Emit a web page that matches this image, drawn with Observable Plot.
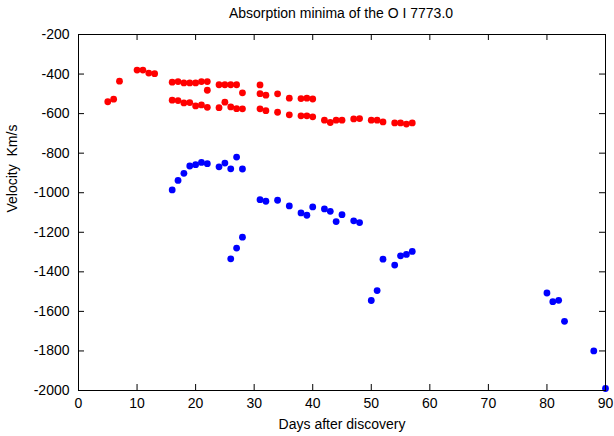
<!DOCTYPE html>
<html>
<head>
<meta charset="utf-8">
<script src="https://cdn.jsdelivr.net/npm/d3@7"></script>
<script src="https://cdn.jsdelivr.net/npm/@observablehq/plot@0.6"></script>
<style>
  html, body { margin: 0; padding: 0; background: #fff; }
  #wrap { width: 614px; height: 436px; overflow: hidden; font-family: "Liberation Sans", Arial, sans-serif; }
  #title { height: 26px; line-height: 26px; font-size: 14px; position: relative; }
  #title span { position: absolute; left: 341px; top: 0; transform: translateX(-50%); white-space: nowrap; }
  svg text { white-space: pre; }
</style>
</head>
<body>
<div id="wrap">
  <div id="title"><span id="titleSpan"></span></div>
  <div id="chart"></div>
</div>
<script>
// ---- data ----
const titleText = "Absorption minima of the O I 7773.0";
const xLabel = "Days after discovery";
const yLabel = "Velocity  Km/s";

const redDays = [5, 6, 7, 10, 11, 12, 13,
  16, 17, 18, 19, 20, 21, 22, 22, 24, 25, 26, 27, 28, 31, 31, 32, 34, 36, 38, 39, 40,
  16, 17, 18, 19, 20, 21, 22, 24, 25, 26, 27, 28, 31, 32, 34, 36, 38, 39, 40,
  42, 43, 44, 45, 47, 48, 50, 51, 52, 54, 55, 56, 57];
const redVel = [-540, -527, -436, -380, -380, -395, -398,
  -441, -438, -445, -445, -445, -438, -438, -482, -454, -454, -454, -454, -495, -455, -499, -507, -500, -522, -524, -522, -526,
  -532, -534, -546, -544, -561, -556, -568, -570, -542, -566, -575, -576, -576, -585, -593, -606, -611, -611, -616,
  -633, -645, -633, -633, -627, -625, -633, -633, -642, -647, -647, -653, -647];

const blueDays = [16, 17, 18, 19, 20, 21, 22, 24, 25, 26, 27, 28,
  26, 27, 28,
  31, 32, 34, 36, 38, 39, 40, 42, 43, 44, 45, 47, 48,
  50, 51, 52, 54, 55, 56, 57,
  80, 81, 82, 83, 88, 90];
const blueVel = [-986, -938, -902, -865, -858, -847, -853, -869, -850, -879, -820, -880,
  -1334, -1280, -1225,
  -1035, -1043, -1038, -1067, -1102, -1114, -1072, -1082, -1094, -1146, -1111, -1142, -1151,
  -1545, -1495, -1336, -1366, -1319, -1312, -1297,
  -1507, -1551, -1544, -1650, -1800, -1990];

const xTicks = [0, 10, 20, 30, 40, 50, 60, 70, 80, 90];
const yTicks = [-2000, -1800, -1600, -1400, -1200, -1000, -800, -600, -400, -200];

// ---- build ----
document.getElementById("titleSpan").textContent = titleText;
const red = redDays.map((d, i) => ({day: d, vel: redVel[i]}));
const blue = blueDays.map((d, i) => ({day: d, vel: blueVel[i]}));

const W = 614, H = 410;
const mT = 8, mB = 46, mL = 78, mR = 9;
const innerH = H - mT - mB, innerW = W - mL - mR;
const tk = 6;
const fmt = d => String(d);
const FS = 14;

const chart = Plot.plot({
  width: W, height: H,
  marginTop: mT, marginBottom: mB, marginLeft: mL, marginRight: mR,
  style: {fontFamily: "'Liberation Sans', Arial, sans-serif", fontSize: FS + "px", color: "#000", background: "#fff"},
  x: {domain: [0, 90]},
  y: {domain: [-2000, -200]},
  marks: [
    Plot.axisX(xTicks, {tickSize: 0, tickPadding: 8, tickFormat: fmt, fill: "#000", fontSize: FS, label: null}),
    Plot.axisY(yTicks, {tickSize: 0, tickPadding: 9, tickFormat: fmt, fill: "#000", fontSize: FS, label: null}),
    Plot.tickX(xTicks, {x: d => d, insetTop: innerH - tk, stroke: "#000"}),
    Plot.tickX(xTicks, {x: d => d, insetBottom: innerH - tk, stroke: "#000"}),
    Plot.tickY(yTicks, {y: d => d, insetRight: innerW - tk, stroke: "#000"}),
    Plot.tickY(yTicks, {y: d => d, insetLeft: innerW - tk, stroke: "#000"}),
    Plot.dot(red, {x: "day", y: "vel", r: 3.4, fill: "#ff0000", stroke: null}),
    Plot.dot(blue, {x: "day", y: "vel", r: 3.4, fill: "#0000ff", stroke: null}),
    Plot.frame({stroke: "#000", strokeWidth: 1}),
    Plot.text([xLabel], {frameAnchor: "bottom", dy: 38, fontSize: FS, fill: "#000"}),
    Plot.text([yLabel], {frameAnchor: "left", dx: -66, rotate: -90, fontSize: FS, fill: "#000"})
  ]
});
document.getElementById("chart").appendChild(chart);
</script>
</body>
</html>
